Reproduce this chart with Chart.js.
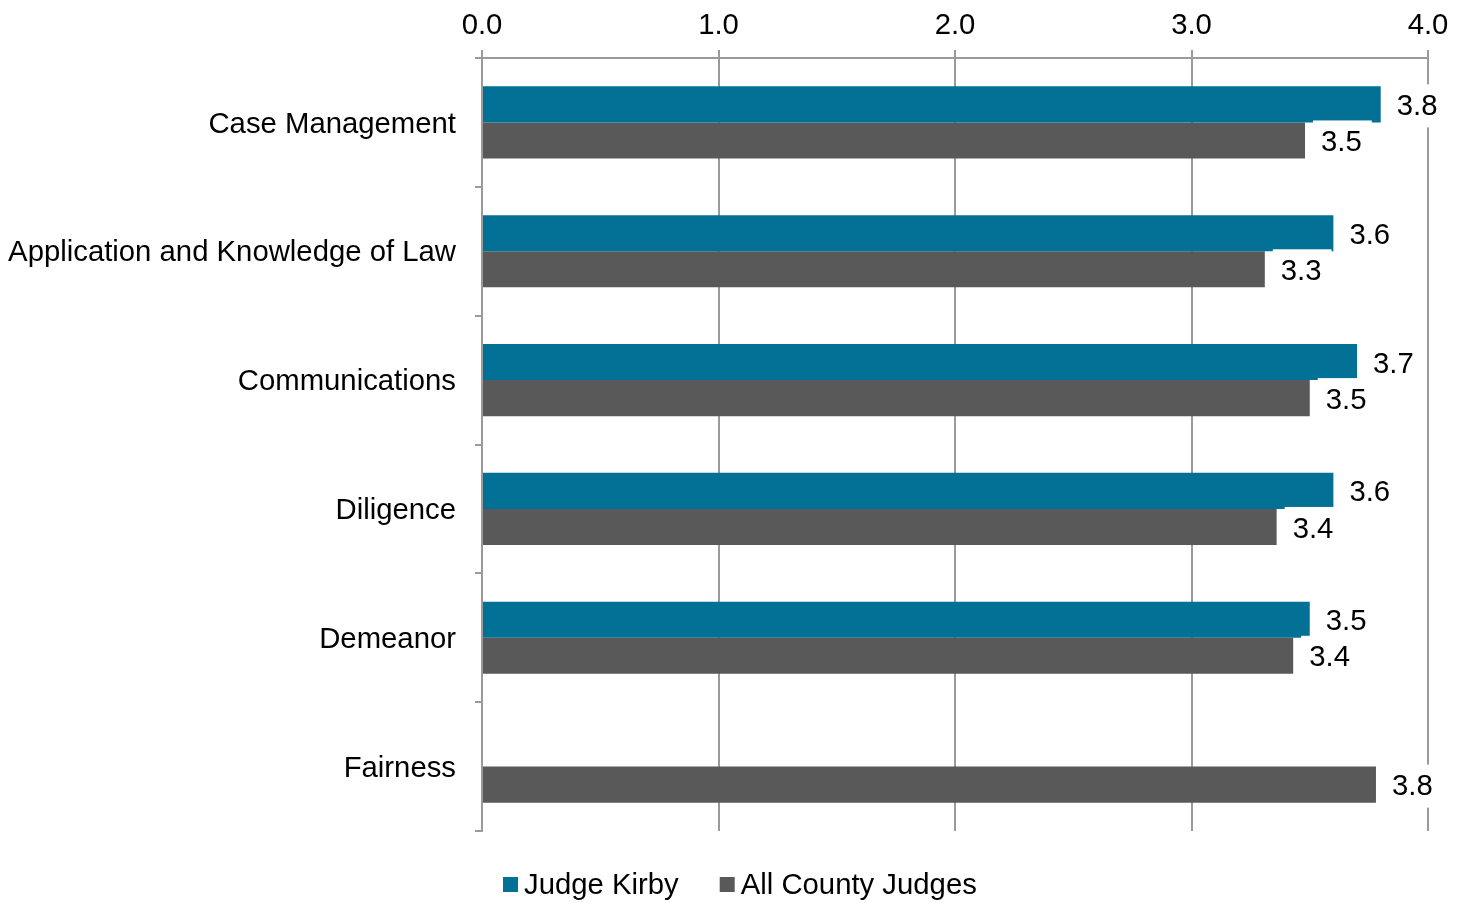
<!DOCTYPE html>
<html>
<head>
<meta charset="utf-8">
<script src="https://cdn.jsdelivr.net/npm/chart.js@4/dist/chart.umd.min.js"></script>
<style>
html, body { margin: 0; padding: 0; background: #ffffff; }
#wrap { width: 1468px; height: 903px; }
</style>
</head>
<body>
<div id="wrap"><canvas id="c" width="1468" height="903"></canvas></div>
<script>
const categories = ["Case Management", "Application and Knowledge of Law", "Communications", "Diligence", "Demeanor", "Fairness"];
const judgeKirby = [3.80, 3.60, 3.70, 3.60, 3.50, null];
const allCountyJudges = [3.48, 3.31, 3.50, 3.36, 3.43, 3.78];
const seriesNames = ["Judge Kirby", "All County Judges"];
const xTickValues = [0, 1, 2, 3, 4];

const FONT = "'Liberation Sans', Arial, sans-serif";
const FS = 29.3;
const TEAL = "#037096";
const GRAY = "#595959";
const GRID = "#9a9a9a";

const valueLabels = {
  id: 'valueLabels',
  afterDatasetsDraw(chart) {
    const ctx = chart.ctx;
    ctx.save();
    ctx.font = FS + "px " + FONT;
    ctx.textBaseline = 'middle';
    ctx.textAlign = 'left';
    const items = [];
    chart.data.datasets.forEach((ds, di) => {
      const meta = chart.getDatasetMeta(di);
      meta.data.forEach((bar, i) => {
        const v = ds.data[i];
        if (v === null || v === undefined) return;
        const txt = v.toFixed(1);
        const w = ctx.measureText(txt).width;
        items.push({ x: bar.x, y: bar.y, txt, w });
      });
    });
    items.forEach(it => {
      ctx.fillStyle = '#ffffff';
      ctx.fillRect(it.x + 8, it.y - 20, 8 + it.w + 10, 43);
    });
    items.forEach(it => {
      ctx.fillStyle = '#000000';
      ctx.fillText(it.txt, it.x + 16, it.y + 2.5);
    });
    ctx.restore();
  }
};

const customLegend = {
  id: 'customLegend',
  afterDraw(chart) {
    const ctx = chart.ctx;
    ctx.save();
    ctx.font = FS + "px " + FONT;
    ctx.textBaseline = 'middle';
    ctx.textAlign = 'left';
    let x = 503;
    const y = 885;
    chart.data.datasets.forEach((ds) => {
      ctx.fillStyle = ds.backgroundColor;
      ctx.fillRect(x, y - 8, 15, 15);
      ctx.fillStyle = '#000000';
      ctx.fillText(ds.label, x + 21, y + 1);
      x += 21 + ctx.measureText(ds.label).width + 41;
    });
    ctx.restore();
  }
};

new Chart(document.getElementById('c'), {
  type: 'bar',
  data: {
    labels: categories,
    datasets: [
      { label: seriesNames[0], data: judgeKirby, backgroundColor: TEAL, borderWidth: 0 },
      { label: seriesNames[1], data: allCountyJudges, backgroundColor: GRAY, borderWidth: 0 }
    ]
  },
  options: {
    indexAxis: 'y',
    responsive: false,
    animation: false,
    devicePixelRatio: 1,
    layout: { padding: { left: 0, right: 40, top: 0, bottom: 72 } },
    datasets: { bar: { categoryPercentage: 0.56, barPercentage: 1.0 } },
    plugins: {
      legend: { display: false },
      tooltip: { enabled: false }
    },
    scales: {
      x: {
        position: 'top',
        min: 0,
        max: 4,
        afterBuildTicks(scale) { scale.ticks = xTickValues.map(v => ({ value: v })); },
        afterFit(scale) { scale.height = 58; },
        ticks: {
          callback: (v) => Number(v).toFixed(1),
          color: '#000000',
          font: { family: FONT, size: FS },
          padding: 7,
          maxRotation: 0
        },
        grid: { color: GRID, lineWidth: 2, tickLength: 8, drawTicks: true },
        border: { display: true, color: GRID, width: 2 }
      },
      y: {
        afterFit(scale) { scale.width = 482; },
        ticks: {
          color: '#000000',
          font: { family: FONT, size: FS },
          padding: 19,
          labelOffset: 2
        },
        grid: { offset: true, drawOnChartArea: false, color: GRID, lineWidth: 2, tickLength: 7 },
        border: { display: true, color: GRID, width: 2 }
      }
    }
  },
  plugins: [valueLabels, customLegend]
});
</script>
</body>
</html>
